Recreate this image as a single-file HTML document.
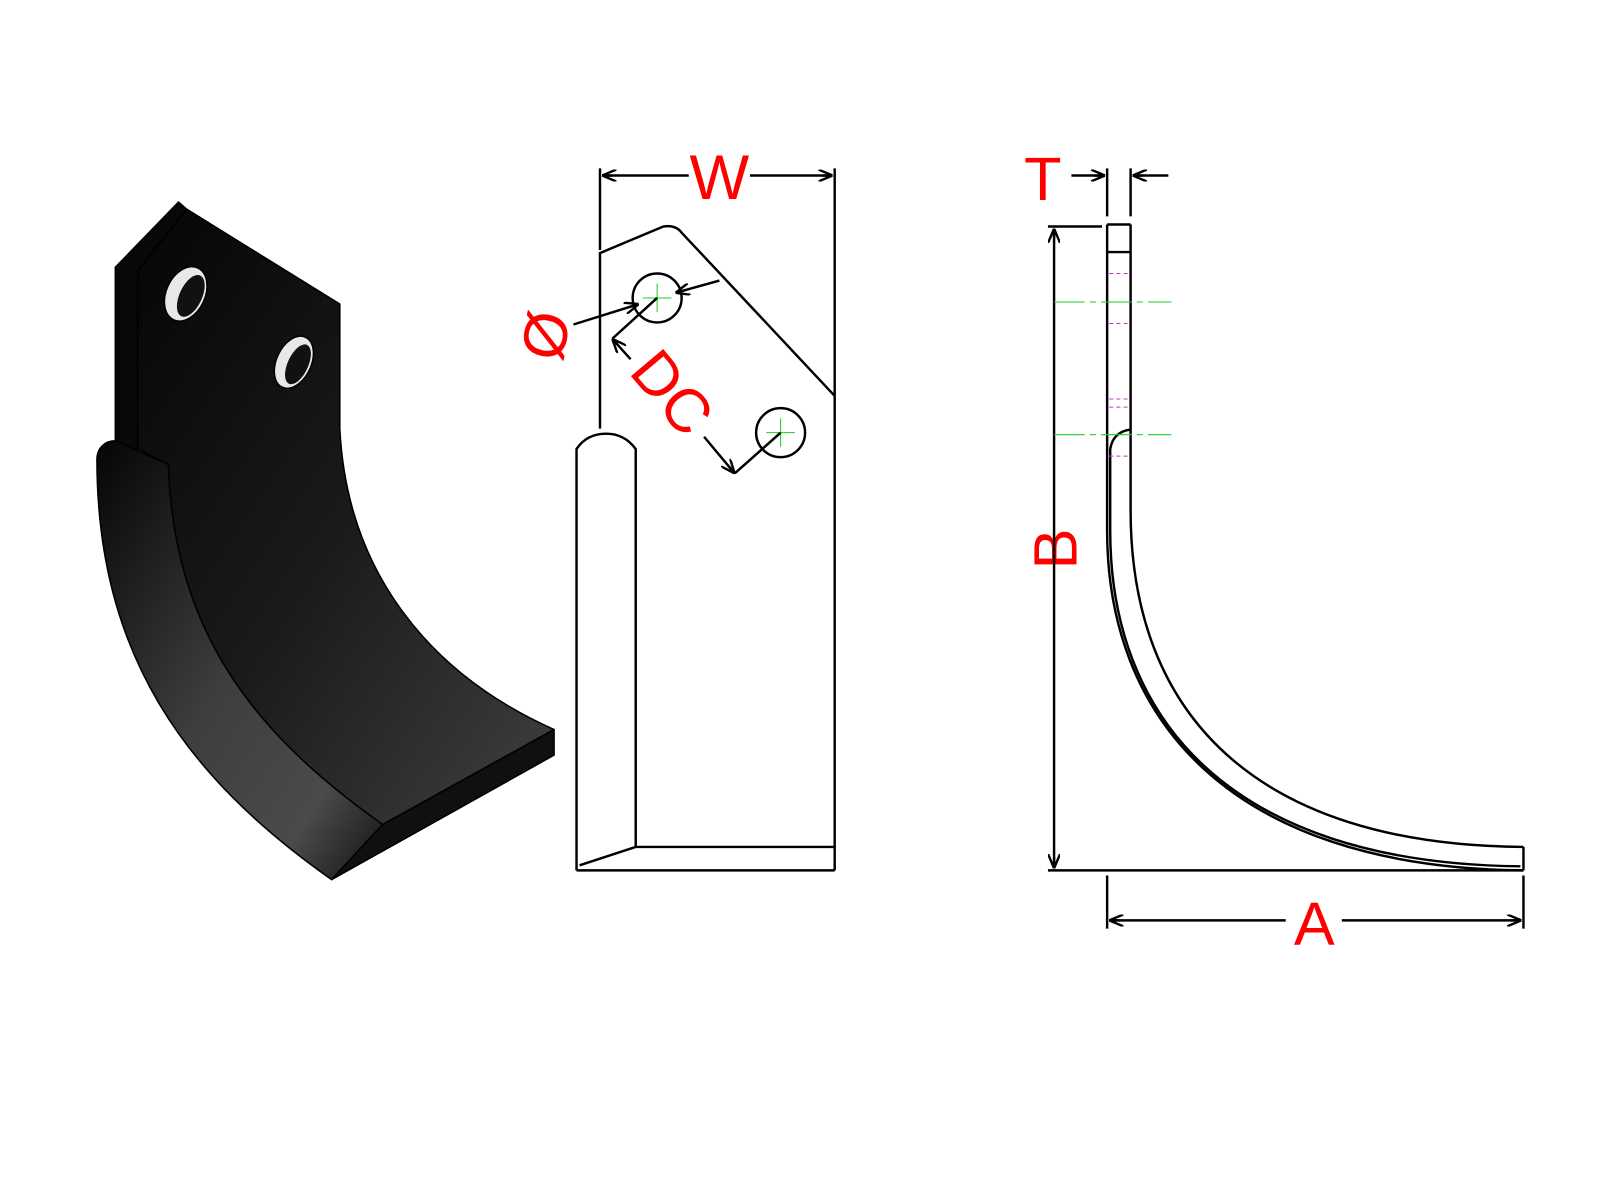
<!DOCTYPE html>
<html><head><meta charset="utf-8"><style>html,body{margin:0;padding:0;background:#fff}svg{display:block}</style></head>
<body>
<svg width="1600" height="1200" viewBox="0 0 1600 1200" xmlns="http://www.w3.org/2000/svg">
<defs>
<linearGradient id="g1" x1="0" y1="0" x2="1" y2="1">
<stop offset="0" stop-color="#050505"/><stop offset="0.5" stop-color="#1a1a1a"/><stop offset="1" stop-color="#404040"/></linearGradient>
<linearGradient id="g2" x1="0" y1="0" x2="1" y2="1">
<stop offset="0" stop-color="#050505"/><stop offset="0.5" stop-color="#3e3e3e"/><stop offset="0.8" stop-color="#4a4a4a"/><stop offset="1" stop-color="#111"/></linearGradient>
<marker id="ar" viewBox="0 0 12 10" refX="12" refY="5" markerWidth="14" markerHeight="12" orient="auto-start-reverse" markerUnits="userSpaceOnUse">
<path d="M0,0 L12,5 L0,10 M12,5 L3,5" fill="none" stroke="#000" stroke-width="2"/></marker>
</defs>
<g transform="scale(1.0204)">
<g stroke="#000" stroke-width="1.5" stroke-linejoin="round">
<path d="M113,262 L175,198 L183,205 L135,265 L135,440 L113,440 Z" fill="#080808"/>
<path d="M135,265 L183,205 L333,298 L333,420 C340,560 420,660 543,715 L375,808 C250,720 170,620 165,455 L135,440 Z" fill="url(#g1)"/>
<path d="M95,450 C95,440 102,432 113,432 L165,455 C170,620 250,720 375,808 L325,862 C180,760 95,640 95,450 Z" fill="url(#g2)"/>
<path d="M375,808 L543,715 L543,740 L325,862 Z" fill="#101010"/>
<ellipse cx="182" cy="288" rx="19" ry="28" transform="rotate(25 182 288)" fill="#e8e8e8"/>
<ellipse cx="288" cy="355" rx="17" ry="27" transform="rotate(25 288 355)" fill="#e8e8e8"/>
<ellipse cx="187" cy="290" rx="11" ry="22" transform="rotate(25 187 290)" fill="#111" stroke="none"/>
<ellipse cx="292" cy="357" rx="10" ry="21" transform="rotate(25 292 357)" fill="#111" stroke="none"/>
</g>
<g fill="none" stroke="#000" stroke-width="2.4">
<path d="M588,165 L588,245"/>
<path d="M818,165 L818,853"/>
<path d="M588,420 L588,248 L650,222 Q662,220 668,228 L818,388"/>
<path d="M565,853 L565,440 Q575,425 594,425 Q612,425 623,440 L623,830"/>
<path d="M565,853 L818,853 M623,830 L818,830 M568,848 L623,830"/>
<circle cx="644" cy="292" r="24"/><circle cx="765" cy="424" r="24"/>
</g>
<g stroke="#2c2" stroke-width="1"><path d="M630,292 H658 M644,278 V306 M751,424 H779 M765,410 V438"/></g>
<g stroke="#000" stroke-width="2.4" fill="none">
<path d="M675,172 H590" marker-end="url(#ar)"/><path d="M735,172 H816" marker-end="url(#ar)"/>
<path d="M562,318 L626,298" marker-end="url(#ar)"/>
<path d="M705,275 L662,287" marker-end="url(#ar)"/>
<path d="M644,292 L600,332"/><path d="M618,352 L600,332" marker-end="url(#ar)"/>
<path d="M765,424 L720,464"/><path d="M690,428 L720,464" marker-end="url(#ar)"/>
</g>
<g fill="#f00" font-family="Liberation Sans, sans-serif">
<text x="705" y="195" font-size="62" text-anchor="middle">W</text>
<text x="0" y="0" font-size="60" text-anchor="middle" transform="translate(555,333) rotate(-78)">Ø</text>
<text x="0" y="0" font-size="60" text-anchor="middle" transform="translate(643,398) rotate(50)">DC</text>
<text x="1022" y="196" font-size="60" text-anchor="middle">T</text>
<text x="1288" y="926" font-size="60" text-anchor="middle">A</text>
<text x="0" y="0" font-size="60" text-anchor="middle" transform="translate(1055,538) rotate(-90)">B</text>
</g>
<g fill="none" stroke="#000" stroke-width="2.4">
<path d="M1085,165 V212 M1108,165 V212"/>
<path d="M1085,220 L1085,520 C1085,700 1200,850 1493,853"/>
<path d="M1108,220 L1108,500 C1108,700 1230,828 1493,830"/>
<path d="M1088,440 L1088,520 C1088,700 1200,846 1490,849"/>
<path d="M1108,421 Q1091,423 1088,440"/>
<path d="M1085,220 H1108 M1085,247 H1108 M1493,830 V853"/>
<path d="M1027,222 H1080"/>
<path d="M1027,853 H1493"/>
<path d="M1033,540 V224" marker-end="url(#ar)"/><path d="M1033,540 V851" marker-end="url(#ar)"/>
<path d="M1085,858 V910 M1493,858 V910"/>
<path d="M1260,902 H1087" marker-end="url(#ar)"/><path d="M1315,902 H1491" marker-end="url(#ar)"/>
<path d="M1050,172 H1083" marker-end="url(#ar)"/><path d="M1145,172 H1110" marker-end="url(#ar)"/>
</g>
<g stroke="#2c2" stroke-width="1" stroke-dasharray="30,5,6,5"><path d="M1033,296 H1148 M1033,426 H1148"/></g>
<g stroke="#c3c" stroke-width="1" stroke-dasharray="4,3"><path d="M1087,268 H1106 M1087,317 H1106 M1087,391 H1106 M1087,399 H1106 M1087,447 H1106"/></g>
</g>
</svg>
</body></html>
